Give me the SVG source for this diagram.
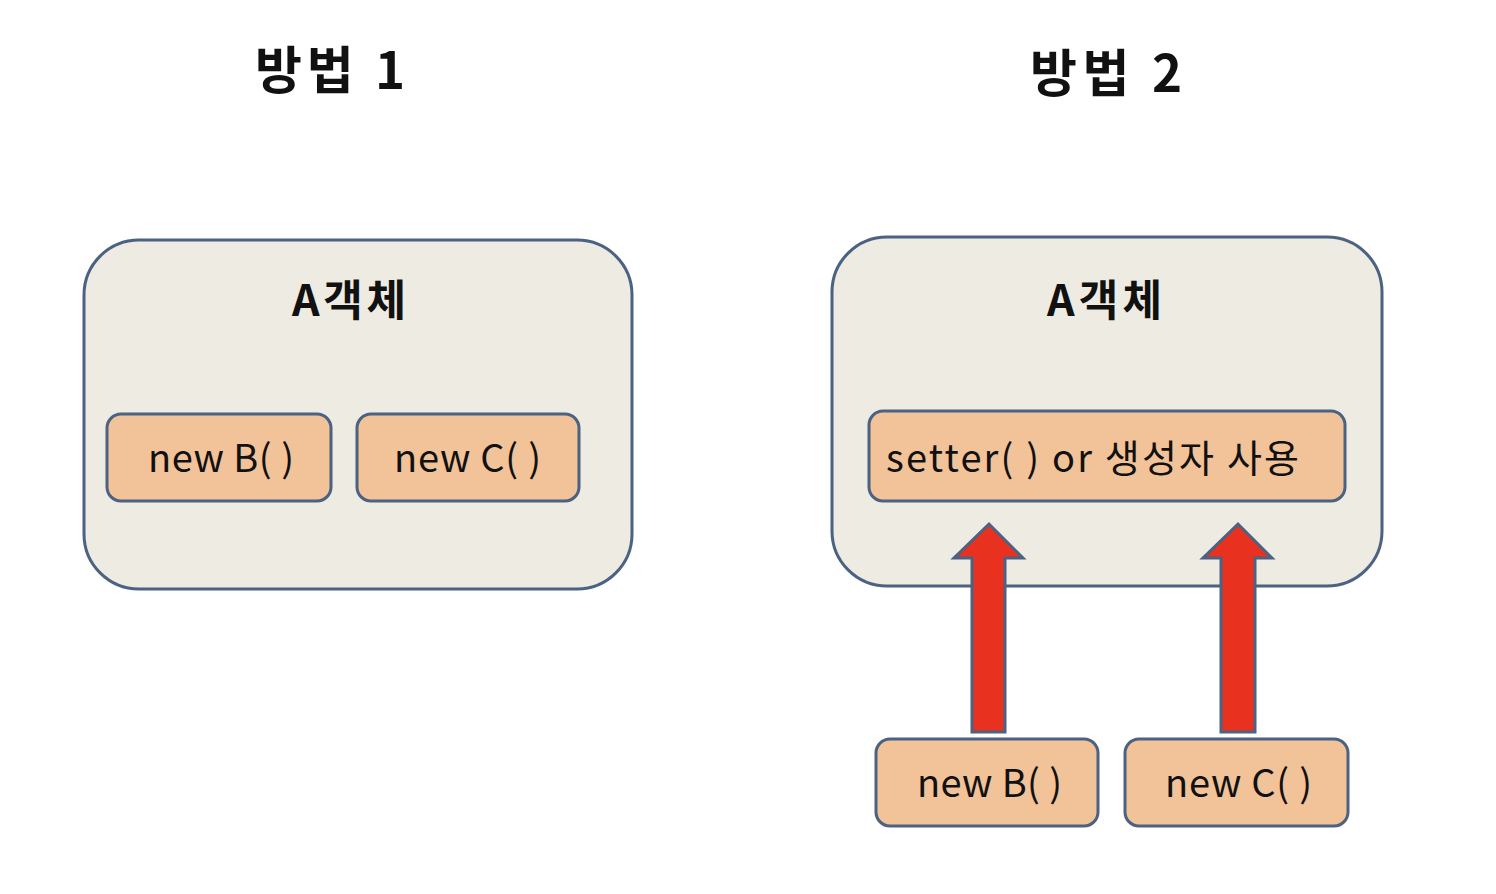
<svg xmlns="http://www.w3.org/2000/svg" width="1496" height="894" viewBox="0 0 1496 894">
<defs>
<style>
.outer{fill:#EEEBE2;stroke:#4B6282;stroke-width:3}
.inner{fill:#F2C299;stroke:#4B6282;stroke-width:3}
.arrow{fill:#E8311F;stroke:#4B6282;stroke-width:3;stroke-linejoin:miter}
.title{font-family:"Noto Sans CJK KR","Noto Sans",sans-serif;font-weight:bold;font-size:51px;fill:#111}
.head{font-family:"Noto Sans CJK KR","Noto Sans",sans-serif;font-weight:bold;font-size:43px;fill:#111}
.lbl{font-family:"Noto Sans CJK KR","Noto Sans",sans-serif;font-size:38px;fill:#111}
</style>
</defs>
<rect width="1496" height="894" fill="#ffffff"/>
<g id="title1"><text class="title" x="255" y="89" textLength="150" lengthAdjust="spacing">방법 1</text></g>
<g id="title2"><text class="title" x="1030" y="92" textLength="152" lengthAdjust="spacing">방법 2</text></g>

<g id="objA1">
<rect class="outer" x="84" y="240" width="548" height="349" rx="55" ry="55"/>
<text class="head" x="292" y="316" textLength="114" lengthAdjust="spacing">A객체</text>
</g>
<g id="newB1">
<rect class="inner" x="107" y="414" width="224" height="87" rx="14" ry="14"/>
<text class="lbl" x="148" y="472" textLength="146" lengthAdjust="spacing">new B( )</text>
</g>
<g id="newC1">
<rect class="inner" x="357" y="414" width="222" height="87" rx="14" ry="14"/>
<text class="lbl" x="394" y="472" textLength="147" lengthAdjust="spacing">new C( )</text>
</g>

<g id="objA2">
<rect class="outer" x="832" y="237" width="550" height="349" rx="55" ry="55"/>
<text class="head" x="1047" y="316" textLength="115" lengthAdjust="spacing">A객체</text>
</g>
<g id="setter">
<rect class="inner" x="869" y="411" width="476" height="90" rx="14" ry="14"/>
<text class="lbl" x="886" y="472" textLength="413" lengthAdjust="spacing">setter( ) or 생성자 사용</text>
</g>
<g id="newB2">
<rect class="inner" x="876" y="739" width="222" height="87" rx="14" ry="14"/>
<text class="lbl" x="917" y="797" textLength="145" lengthAdjust="spacing">new B( )</text>
</g>
<g id="newC2">
<rect class="inner" x="1125" y="739" width="223" height="87" rx="14" ry="14"/>
<text class="lbl" x="1165" y="797" textLength="147" lengthAdjust="spacing">new C( )</text>
</g>

<g id="connectors">
<polygon class="arrow" points="972,732 972,558 954,558 989,524 1023,558 1005,558 1005,732"/>
<polygon class="arrow" points="1221,732 1221,558 1203,558 1238,524 1272,558 1255,558 1255,732"/>
</g>
</svg>
